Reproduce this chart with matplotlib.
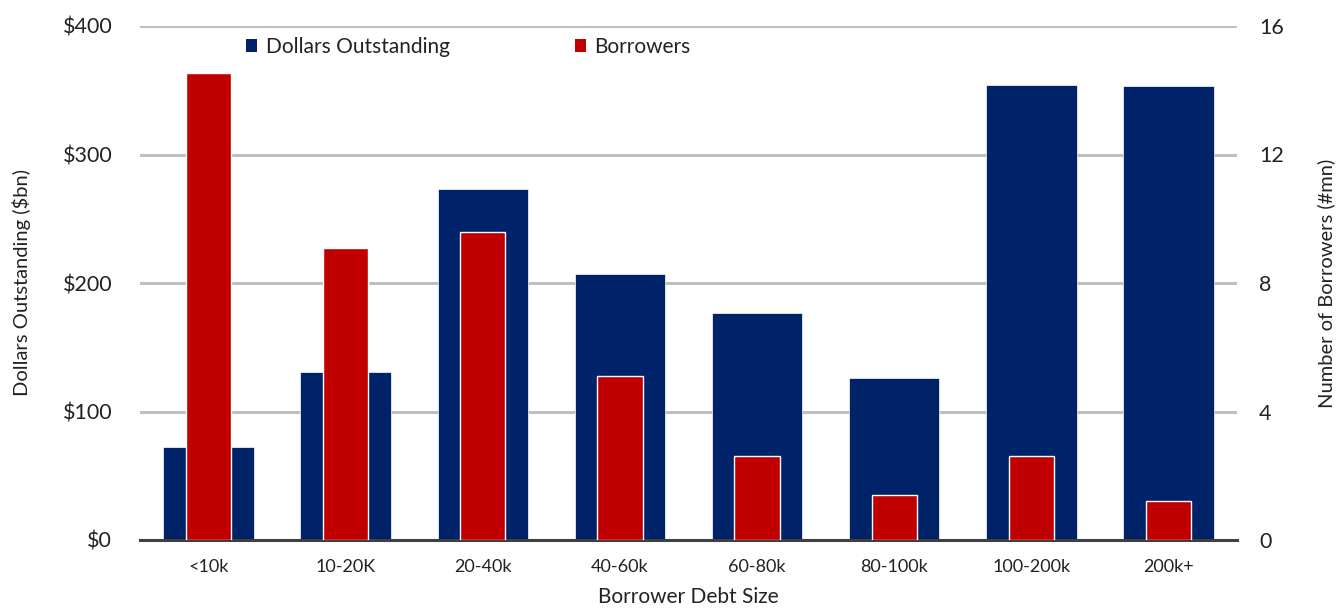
import matplotlib
matplotlib.use("Agg")
import matplotlib.pyplot as plt
from matplotlib.patches import Patch
import numpy as np

categories = ["<10k", "10-20K", "20-40k", "40-60k", "60-80k", "80-100k", "100-200k", "200k+"]
dollars_outstanding = [72, 131, 273, 207, 177, 126, 354, 353]
borrowers = [14.55, 9.1, 9.6, 5.1, 2.6, 1.4, 2.6, 1.2]

BLUE = "#002269"
RED = "#c00000"
GRID = "#bfbfbf"
TEXT = "#222222"

plt.rcParams['font.family'] = ['Lato', 'DejaVu Sans']

fig = plt.figure(figsize=(13.4, 6.1), dpi=100)
ax = fig.add_axes([140/1340, 1-540/610, (1237-140)/1340, (540-26)/610])
ax2 = ax.twinx()

x = np.arange(len(categories))
ax.bar(x, dollars_outstanding, width=0.66, color=BLUE, edgecolor="white", linewidth=0.5, zorder=2)
ax2.bar(x, borrowers, width=0.33, color=RED, edgecolor="white", linewidth=1.0, zorder=3)

ax.set_xlim(-0.5, len(categories)-0.5)
ax.set_ylim(0, 400)
ax2.set_ylim(0, 16)
ax.set_yticks([0, 100, 200, 300, 400])
ax.set_yticklabels([f"${v}" for v in [0, 100, 200, 300, 400]])
ax2.set_yticks([0, 4, 8, 12, 16])

ax.yaxis.grid(True, color=GRID, linewidth=2.2, zorder=0)
ax.set_axisbelow(True)

for a in (ax, ax2):
    for s in ("left", "right", "top", "bottom"):
        a.spines[s].set_visible(False)
ax.spines["bottom"].set_visible(True)
ax.spines["bottom"].set_color("#404040")
ax.spines["bottom"].set_linewidth(2.2)
ax.spines["bottom"].set_zorder(5)

ax.set_xticks(x)
ax.set_xticklabels(categories)
ax.tick_params(axis="x", length=0, pad=14, labelsize=13, labelcolor=TEXT)
ax.tick_params(axis="y", length=0, pad=20, labelsize=15.5, labelcolor=TEXT)
ax2.tick_params(axis="y", length=0, pad=16, labelsize=15.5, labelcolor=TEXT)

ax.set_xlabel("Borrower Debt Size", fontsize=15, color=TEXT, labelpad=8)
ax.set_ylabel("Dollars Outstanding ($bn)", fontsize=14.5, color=TEXT, labelpad=23)
ax2.set_ylabel("Number of Borrowers (#mn)", fontsize=14.5, color=TEXT, labelpad=24)

handles = [Patch(facecolor=BLUE, edgecolor="none", label="Dollars Outstanding"),
           Patch(facecolor=RED, edgecolor="none", label="Borrowers")]
fig.legend(handles=handles, loc="center left", bbox_to_anchor=(227/1340, 1-47/610),
           ncol=2, frameon=False, fontsize=15, handlelength=0.55, handleheight=0.55,
           handletextpad=0.4, columnspacing=6.0, labelcolor=TEXT)

fig.savefig("out.png", dpi=100)
